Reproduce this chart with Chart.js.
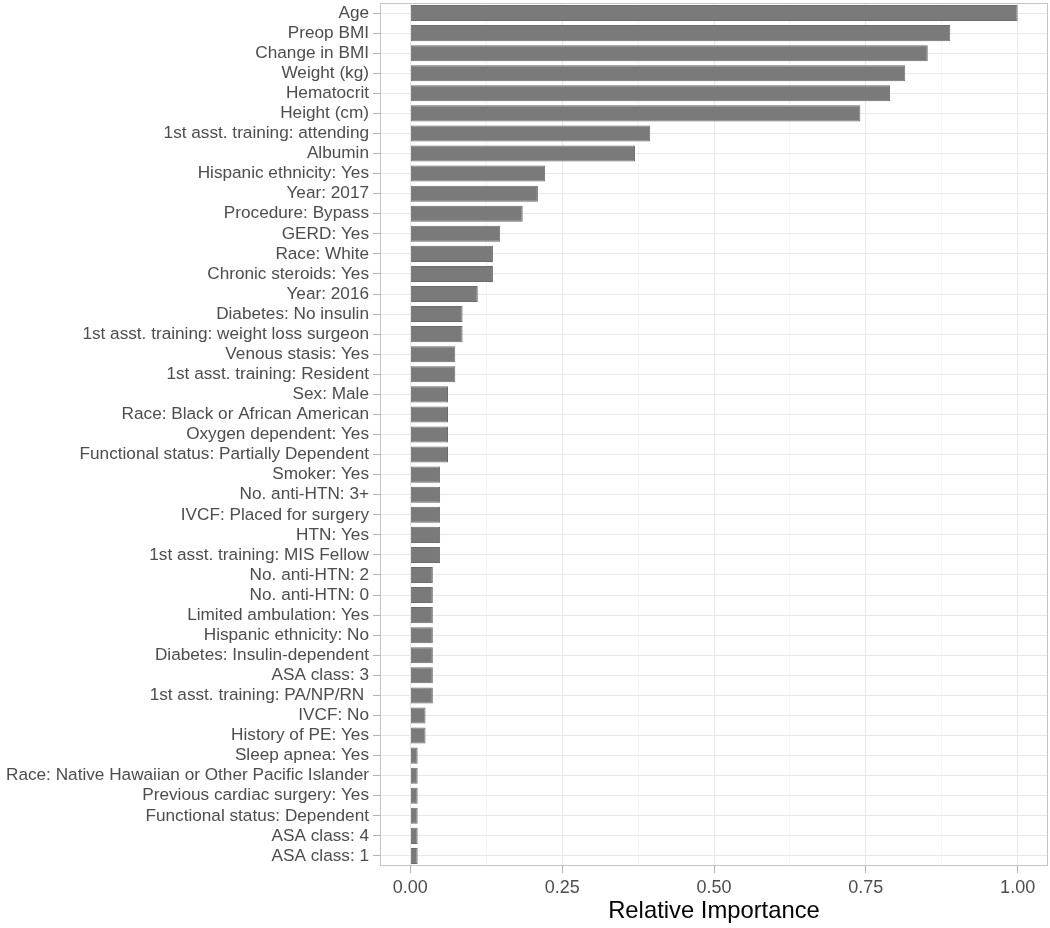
<!DOCTYPE html>
<html>
<head>
<meta charset="utf-8">
<script src="https://cdn.jsdelivr.net/npm/chart.js@4.4.1/dist/chart.umd.min.js"></script>
<style>
    html, body { margin: 0; padding: 0; background: #ffffff; }
    #wrap { width: 1050px; height: 928px; position: relative; }
</style>
</head>
<body>
<div id="wrap"><canvas id="importanceChart"></canvas></div>
<script>
// Biến và giá trị
const variables = [
    "Age", "Preop BMI", "Change in BMI", "Weight (kg)", "Hematocrit", "Height (cm)",
    "1st asst. training: attending", "Albumin", "Hispanic ethnicity: Yes", "Year: 2017",
    "Procedure: Bypass", "GERD: Yes", "Race: White", "Chronic steroids: Yes", "Year: 2016",
    "Diabetes: No insulin", "1st asst. training: weight loss surgeon", "Venous stasis: Yes",
    "1st asst. training: Resident", "Sex: Male", "Race: Black or African American",
    "Oxygen dependent: Yes", "Functional status: Partially Dependent", "Smoker: Yes",
    "No. anti-HTN: 3+", "IVCF: Placed for surgery", "HTN: Yes", "1st asst. training: MIS Fellow",
    "No. anti-HTN: 2", "No. anti-HTN: 0", "Limited ambulation: Yes", "Hispanic ethnicity: No",
    "Diabetes: Insulin-dependent", "ASA class: 3", "1st asst. training: PA/NP/RN ",
    "IVCF: No", "History of PE: Yes", "Sleep apnea: Yes",
    "Race: Native Hawaiian or Other Pacific Islander", "Previous cardiac surgery: Yes",
    "Functional status: Dependent", "ASA class: 4", "ASA class: 1",
];

const importance = [
    1.0, 0.889, 0.852, 0.815, 0.790, 0.741,
    0.395, 0.370, 0.222, 0.210,
    0.185, 0.148, 0.136, 0.136, 0.111,
    0.086, 0.086, 0.074,
    0.074, 0.062, 0.062,
    0.062, 0.062, 0.049,
    0.049, 0.049, 0.049, 0.049,
    0.037, 0.037, 0.037, 0.037,
    0.037, 0.037, 0.037,
    0.025, 0.025, 0.012,
    0.012, 0.012,
    0.012, 0.012, 0.012,
];

const xTicks = [0, 0.25, 0.5, 0.75, 1.0];

document.addEventListener("DOMContentLoaded", function () {
    const gridMajor = "#e8e8e8";
    const gridMinor = "#f4f4f4";
    const axisText = "#4d4d4d";
    const fontFamily = "Liberation Sans, Arial, sans-serif";

    function isMajor(v) {
        return xTicks.some((t) => Math.abs(t - v) < 1e-6);
    }

    // khung quanh vùng vẽ giống theme_light
    const panelBorder = {
        id: "panelBorder",
        afterDraw(chart) {
            const a = chart.chartArea;
            const ctx = chart.ctx;
            ctx.save();
            ctx.strokeStyle = "#c4c4c4";
            ctx.lineWidth = 1;
            ctx.strokeRect(a.left + 0.5, a.top + 0.5, a.right - a.left - 1, a.bottom - a.top - 1);
            ctx.restore();
        },
    };

    new Chart(document.getElementById("importanceChart"), {
        type: "bar",
        data: {
            labels: variables,
            datasets: [
                {
                    data: importance,
                    backgroundColor: "#7a7a7a",
                    borderColor: "#6c6c6c",
                    borderWidth: 1,
                    borderSkipped: false,
                    barPercentage: 0.8,
                    categoryPercentage: 1.0,
                },
            ],
        },
        options: {
            indexAxis: "y",
            responsive: true,
            maintainAspectRatio: false,
            animation: false,
            layout: { padding: { top: 3, right: 2, left: 0, bottom: 0 } },
            plugins: { legend: { display: false }, tooltip: { enabled: false } },
            scales: {
                x: {
                    type: "linear",
                    min: -0.05,
                    max: 1.05,
                    afterFit(scale) {
                        scale.height = 62;
                        scale.paddingLeft = 0;
                        scale.paddingRight = 0;
                    },
                    ticks: {
                        stepSize: 0.125,
                        includeBounds: false,
                        color: axisText,
                        font: { family: fontFamily, size: 18 },
                        padding: 4,
                        callback: (v) => (isMajor(v) ? v.toFixed(2) : ""),
                        maxRotation: 0,
                        autoSkip: false,
                    },
                    grid: {
                        color: (c) => (isMajor(c.tick ? c.tick.value : 0) ? gridMajor : gridMinor),
                        tickColor: (c) => (isMajor(c.tick ? c.tick.value : 0) ? "#b3b3b3" : "rgba(0,0,0,0)"),
                        tickLength: 7,
                        lineWidth: 1,
                    },
                    border: { display: false },
                    title: {
                        display: true,
                        text: "Relative Importance",
                        color: "#000000",
                        font: { family: fontFamily, size: 23.8 },
                        padding: { top: 2, bottom: 2 },
                    },
                },
                y: {
                    type: "category",
                    offset: true,
                    afterFit(scale) {
                        scale.width = 380;
                        scale.paddingTop = 0;
                        scale.paddingBottom = 0;
                    },
                    ticks: {
                        color: axisText,
                        font: { family: fontFamily, size: 17.2 },
                        padding: 4,
                        autoSkip: false,
                    },
                    grid: {
                        offset: false,
                        color: gridMajor,
                        tickColor: "#b3b3b3",
                        tickLength: 7,
                        lineWidth: 1,
                    },
                    border: { display: false },
                },
            },
        },
        plugins: [panelBorder],
    });
});
</script>
</body>
</html>
